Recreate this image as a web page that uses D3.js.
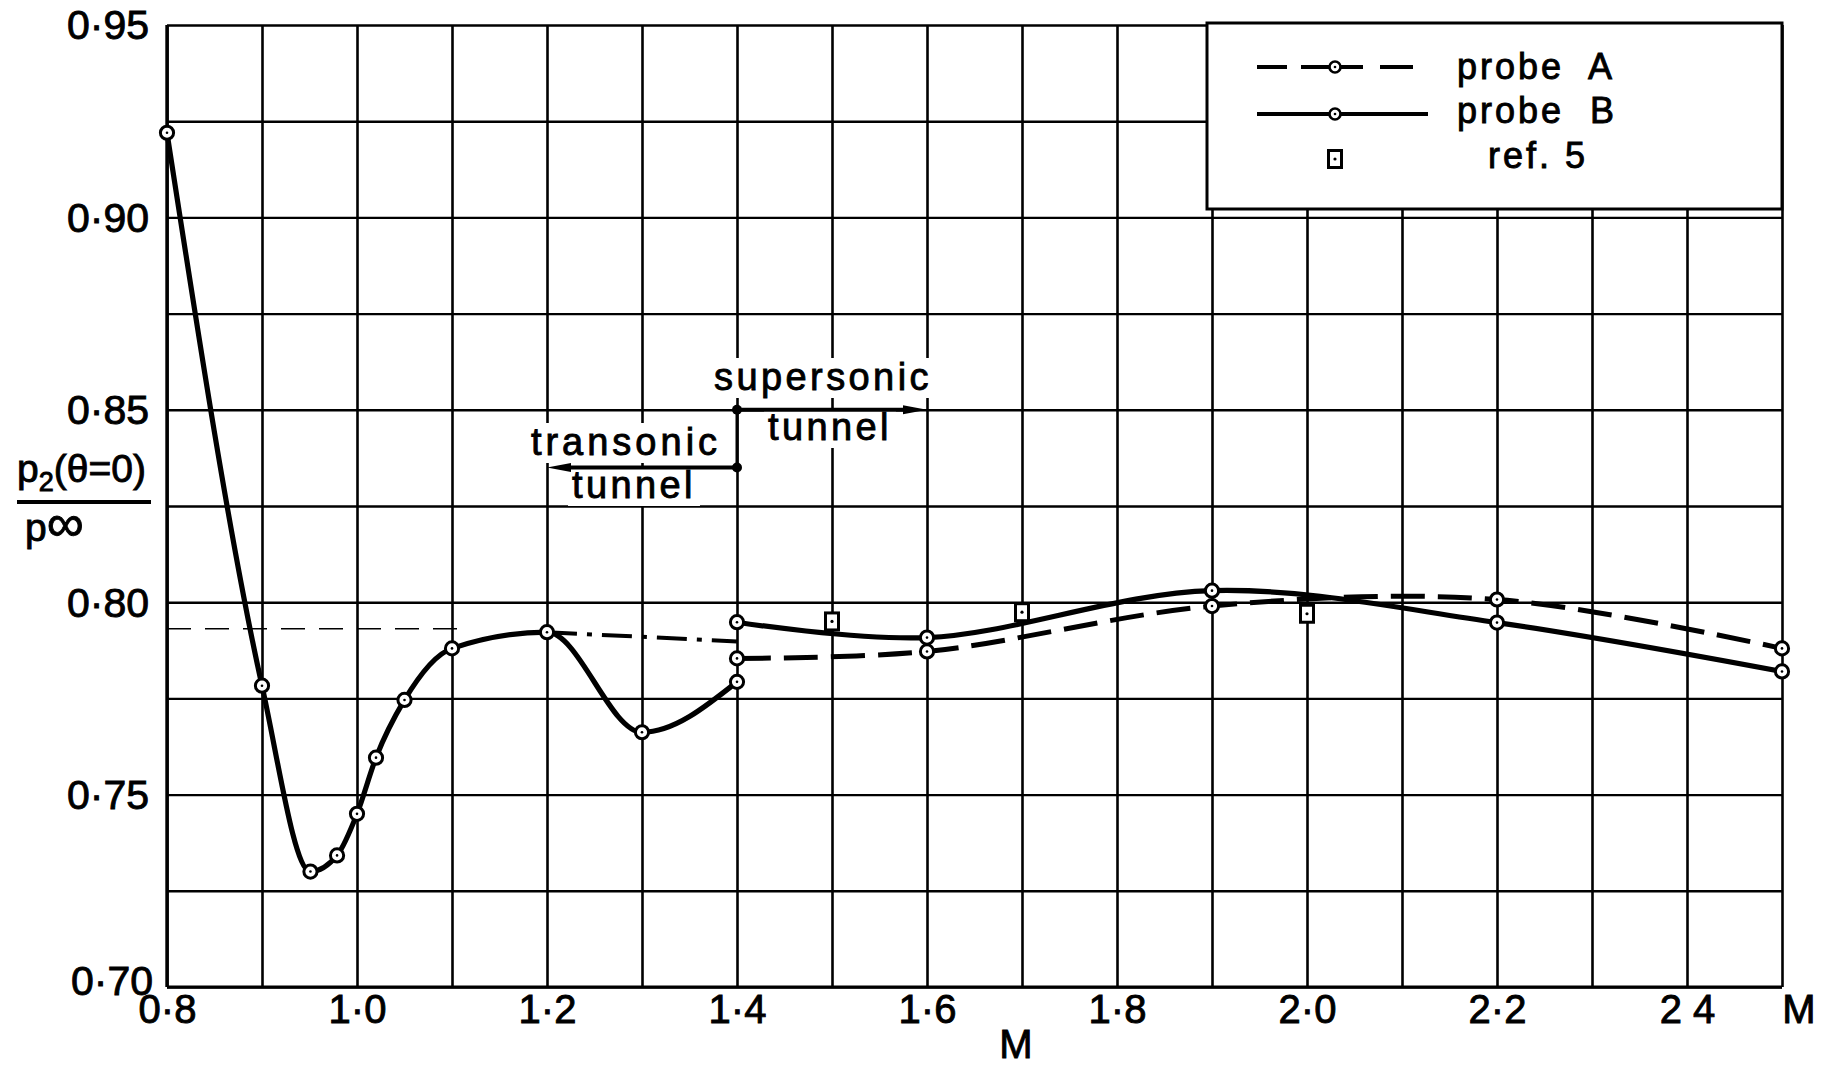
<!DOCTYPE html>
<html><head><meta charset="utf-8">
<script src="https://cdn.jsdelivr.net/npm/d3@7"></script>
<style>
html,body{margin:0;padding:0;background:#fff;}
svg{display:block;}
text{font-family:"Liberation Sans", Arial, sans-serif; fill:#000; stroke:#000; stroke-width:0.9px;}
</style></head><body>
<svg id="chart" width="1833" height="1067"></svg>
<script>
// ---------------- data ----------------
const machGrid = [0.8,0.9,1.0,1.1,1.2,1.3,1.4,1.5,1.6,1.7,1.8,1.9,2.0,2.1,2.2,2.3,2.4,2.5];
const pressureGrid = [0.70,0.725,0.75,0.775,0.80,0.825,0.85,0.875,0.90,0.925,0.95];
const xTickValues = [0.8,1.0,1.2,1.4,1.6,1.8,2.0,2.2,2.4];
const xTickLabels = ["0·8","1·0","1·2","1·4","1·6","1·8","2·0","2·2","2 4"];
const yTickValues = [0.95,0.90,0.85,0.80,0.75,0.70];
const yTickLabels = ["0·95","0·90","0·85","0·80","0·75","0·70"];

// probe B, transonic tunnel (solid)
const probeBTransM = [0.8, 0.9, 0.951, 0.979, 1.0, 1.02, 1.05, 1.1, 1.2, 1.3, 1.4];
const probeBTransP = [0.922, 0.7783, 0.7300, 0.7342, 0.7450, 0.7596, 0.7746, 0.7880, 0.7922, 0.7662, 0.7793];
// probe B, supersonic tunnel (solid)
const probeBSupM = [1.4, 1.6, 1.9, 2.2, 2.5];
const probeBSupP = [0.7948, 0.7908, 0.8030, 0.7947, 0.7820];
// probe A, supersonic tunnel (dashed)
const probeAM = [1.4, 1.6, 1.9, 2.2, 2.5];
const probeAP = [0.7854, 0.7872, 0.7990, 0.8007, 0.7880];
// probe A, transonic tunnel (dash-dot)
const probeATransM = [1.2, 1.4];
const probeATransP = [0.7922, 0.7898];
// thin dashed reference level
const refLevelM = [0.8, 1.12];
const refLevelP = [0.7931, 0.7931];
// ref. 5 squares
const ref5M = [1.5, 1.7, 2.0];
const ref5P = [0.7950, 0.7974, 0.7970];
// tunnel ranges (annotation arrows)
const supersonicRangeM = [1.4, 1.6];
const supersonicLevel = 0.85;
const transonicRangeM = [1.4, 1.2];
const transonicLevel = 0.835;

// ---------------- layout ----------------
const W = 1833, H = 1067;
const x = d3.scaleLinear().domain([0.8, 2.5]).range([167, 1782]);
const y = d3.scaleLinear().domain([0.70, 0.95]).range([987, 25]);

const svg = d3.select("#chart");
svg.append("rect").attr("width", W).attr("height", H).attr("fill", "#fff");

// grid (via axes)
const gx = svg.append("g")
  .attr("transform", `translate(0,${y(0.70)})`)
  .call(d3.axisBottom(x).tickValues(machGrid).tickSize(-(y(0.70) - y(0.95))).tickFormat(""));
gx.select(".domain").remove();
gx.selectAll("line").attr("stroke", "#000").attr("stroke-width", 2.6);

const gy = svg.append("g")
  .attr("transform", `translate(${x(0.8)},0)`)
  .call(d3.axisLeft(y).tickValues(pressureGrid).tickSize(-(x(2.5) - x(0.8))).tickFormat(""));
gy.select(".domain").remove();
gy.selectAll("line").attr("stroke", "#000").attr("stroke-width", 2.4);

// frame
svg.append("line").attr("x1", x(0.8)).attr("x2", x(0.8)).attr("y1", y(0.95)).attr("y2", y(0.70))
  .attr("stroke", "#000").attr("stroke-width", 3.4);
svg.append("line").attr("x1", x(0.8)).attr("x2", x(2.5)).attr("y1", y(0.70)).attr("y2", y(0.70))
  .attr("stroke", "#000").attr("stroke-width", 3.2);

// tick labels (axes)
const ax = svg.append("g")
  .attr("transform", `translate(0,${y(0.70)})`)
  .call(d3.axisBottom(x).tickValues(xTickValues).tickSize(0).tickFormat((d, i) => xTickLabels[i]));
ax.select(".domain").remove();
ax.selectAll("text").attr("fill", "#000").attr("dy", null).attr("y", 36)
  .style("font-family", '"Liberation Sans", Arial, sans-serif').style("font-size", "40px");

const ay = svg.append("g")
  .attr("transform", `translate(${x(0.8)},0)`)
  .call(d3.axisLeft(y).tickValues(yTickValues).tickSize(0).tickFormat((d, i) => yTickLabels[i]));
ay.select(".domain").remove();
ay.selectAll("text").attr("fill", "#000").attr("x", -18).attr("dy", "0.34em")
  .style("font-family", '"Liberation Sans", Arial, sans-serif').style("font-size", "41px")
  .attr("transform", d => d === 0.70 ? "translate(4,-6)" : null);

// axis names
svg.append("text").attr("x", 1799).attr("y", 1023).attr("text-anchor", "middle")
  .style("font-size", "40px").text("M");
svg.append("text").attr("x", 1016).attr("y", 1058).attr("text-anchor", "middle")
  .style("font-size", "40px").text("M");

// y label as fraction
const num = svg.append("text").attr("x", 17).attr("y", 482).style("font-size", "39px");
num.append("tspan").text("p");
num.append("tspan").attr("dy", 9).style("font-size", "27px").text("2");
num.append("tspan").attr("dy", -9).text("(θ=0)");
svg.append("line").attr("x1", 17).attr("x2", 151).attr("y1", 502).attr("y2", 502)
  .attr("stroke", "#000").attr("stroke-width", 4);
const den = svg.append("text").attr("x", 25).attr("y", 541).style("font-size", "39px");
den.append("tspan").text("p");
den.append("tspan").style("font-size", "52px").text("∞");

// ---------------- annotations ----------------
function label(txt, cx, base, size, ls) {
  const g = svg.append("g");
  const t = g.append("text").attr("x", cx).attr("y", base).attr("text-anchor", "middle")
    .style("font-size", size + "px").style("letter-spacing", ls + "px").text(txt);
  const b = t.node().getBBox();
  g.insert("rect", "text").attr("x", b.x - 4).attr("y", b.y + 2).attr("width", b.width + 8)
    .attr("height", b.height - 2).attr("fill", "#fff");
  return g;
}
label("supersonic", 823, 390, 38, 3.4);
label("tunnel", 830, 440, 38, 3.4);
label("transonic", 626, 455, 38, 4);
label("tunnel", 634, 498, 38, 3.4);

function arrow(rangeM, level) {
  const x0 = x(rangeM[0]), x1 = x(rangeM[1]), yy = y(level);
  const dir = Math.sign(x1 - x0);
  svg.append("line").attr("x1", x0).attr("x2", x1 - dir * 14).attr("y1", yy).attr("y2", yy)
    .attr("stroke", "#000").attr("stroke-width", 4);
  svg.append("path")
    .attr("d", `M${x1},${yy} L${x1 - dir * 24},${yy - 4.5} L${x1 - dir * 24},${yy + 4.5} Z`)
    .attr("fill", "#000");
  svg.append("circle").attr("cx", x0).attr("cy", yy).attr("r", 5).attr("fill", "#000");
}
svg.append("line").attr("x1", x(1.4)).attr("x2", x(1.4)).attr("y1", y(supersonicLevel)).attr("y2", y(transonicLevel))
  .attr("stroke", "#000").attr("stroke-width", 3);
arrow(supersonicRangeM, supersonicLevel);
arrow(transonicRangeM, transonicLevel);

// ---------------- curves ----------------
const line = d3.line().x(d => x(d[0])).y(d => y(d[1])).curve(d3.curveMonotoneX);
const lineSup = d3.line().x(d => x(d[0])).y(d => y(d[1])).curve(d3.curveCatmullRom.alpha(0.5));
const zip = (a, b) => a.map((v, i) => [v, b[i]]);

svg.append("path").attr("d", d3.line().x(d => x(d[0])).y(d => y(d[1]))(zip(refLevelM, refLevelP)))
  .attr("fill", "none").attr("stroke", "#000").attr("stroke-width", 1.6).attr("stroke-dasharray", "24 14");
svg.append("path").attr("d", d3.line().x(d => x(d[0])).y(d => y(d[1])).curve(d3.curveMonotoneX)(zip(probeATransM, probeATransP)))
  .attr("fill", "none").attr("stroke", "#000").attr("stroke-width", 4).attr("stroke-dasharray", "30 10 5 10");
svg.append("path").attr("d", lineSup(zip(probeAM, probeAP)))
  .attr("fill", "none").attr("stroke", "#000").attr("stroke-width", 5).attr("stroke-dasharray", "34 13");
svg.append("path").attr("d", line(zip(probeBTransM, probeBTransP)))
  .attr("fill", "none").attr("stroke", "#000").attr("stroke-width", 5.2).attr("stroke-linejoin", "round");
svg.append("path").attr("d", lineSup(zip(probeBSupM, probeBSupP)))
  .attr("fill", "none").attr("stroke", "#000").attr("stroke-width", 5.2).attr("stroke-linejoin", "round");

// markers
function circles(ms, ps) {
  const pts = zip(ms, ps);
  svg.append("g").selectAll("circle").data(pts).join("circle")
    .attr("cx", d => x(d[0])).attr("cy", d => y(d[1])).attr("r", 6.6)
    .attr("fill", "#fff").attr("stroke", "#000").attr("stroke-width", 3);
  svg.append("g").selectAll("circle").data(pts).join("circle")
    .attr("cx", d => x(d[0])).attr("cy", d => y(d[1])).attr("r", 1.3).attr("fill", "#000");
}
circles(probeBTransM, probeBTransP);
circles(probeBSupM, probeBSupP);
circles(probeAM, probeAP);

const sq = zip(ref5M, ref5P);
svg.append("g").selectAll("rect").data(sq).join("rect")
  .attr("x", d => x(d[0]) - 6.5).attr("y", d => y(d[1]) - 8.5).attr("width", 13).attr("height", 17)
  .attr("fill", "#fff").attr("stroke", "#000").attr("stroke-width", 3);
svg.append("g").selectAll("circle").data(sq).join("circle")
  .attr("cx", d => x(d[0])).attr("cy", d => y(d[1])).attr("r", 1.6).attr("fill", "#000");

// ---------------- legend ----------------
const lg = svg.append("g");
lg.append("rect").attr("x", 1207).attr("y", 23).attr("width", x(2.5) - 1207).attr("height", 186)
  .attr("fill", "#fff").attr("stroke", "#000").attr("stroke-width", 3);
lg.append("line").attr("x1", 1257).attr("x2", 1413).attr("y1", 67).attr("y2", 67)
  .attr("stroke", "#000").attr("stroke-width", 4).attr("stroke-dasharray", "30 14 62 17 33");
lg.append("line").attr("x1", 1257).attr("x2", 1428).attr("y1", 114).attr("y2", 114)
  .attr("stroke", "#000").attr("stroke-width", 4);
[67, 114].forEach(cy => {
  lg.append("circle").attr("cx", 1335).attr("cy", cy).attr("r", 5.5)
    .attr("fill", "#fff").attr("stroke", "#000").attr("stroke-width", 2.6);
  lg.append("circle").attr("cx", 1335).attr("cy", cy).attr("r", 1.3).attr("fill", "#000");
});
lg.append("rect").attr("x", 1335 - 6.5).attr("y", 159 - 8.5).attr("width", 13).attr("height", 17)
  .attr("fill", "#fff").attr("stroke", "#000").attr("stroke-width", 3);
lg.append("circle").attr("cx", 1335).attr("cy", 159).attr("r", 1.6).attr("fill", "#000");
const legendText = [["probe  A", 1457, 79], ["probe  B", 1457, 123], ["ref. 5", 1488, 168]];
legendText.forEach(([t, lx, ly]) => {
  lg.append("text").attr("x", lx).attr("y", ly).style("font-size", "36px")
    .style("letter-spacing", "3px").style("white-space", "pre").text(t);
});
</script>
</body></html>
